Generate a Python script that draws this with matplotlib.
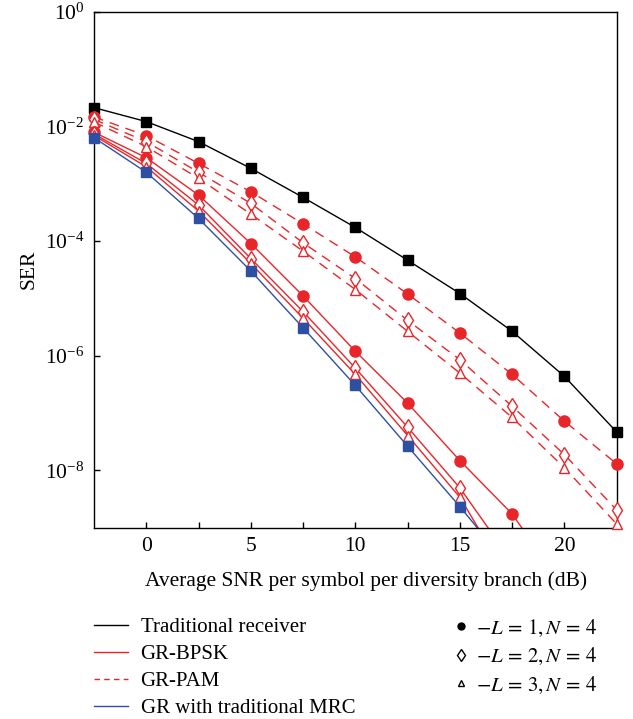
import matplotlib
matplotlib.use("Agg")
import numpy as np
import matplotlib.pyplot as plt
from matplotlib.lines import Line2D
from matplotlib.ticker import FixedLocator, LogFormatterMathtext, NullLocator

plt.rcParams['font.family'] = ['Liberation Serif', 'DejaVu Serif']
plt.rcParams['mathtext.fontset'] = 'stix'

# SNR grid (dB)
snr = [-2.5, 0, 2.5, 5, 7.5, 10, 12.5, 15, 17.5, 20, 22.5]

# traditional receiver
trad = [2.12e-2, 1.21e-2, 5.41e-3, 1.85e-3, 5.75e-4, 1.72e-4, 4.61e-5, 1.21e-5, 2.65e-6, 4.33e-7, 4.63e-8]

# GR-PAM, L = 1, 2, 3
pam_l1 = [1.46e-2, 6.87e-3, 2.26e-3, 7.21e-4, 1.99e-4, 5.27e-5, 1.19e-5, 2.47e-6, 4.69e-7, 7.16e-8, 1.29e-8]
pam_l2 = [1.32e-2, 5.41e-3, 1.58e-3, 4.53e-4, 9.27e-5, 2.21e-5, 4.12e-6, 8.47e-7, 1.30e-7, 1.87e-8, 2.02e-9]
pam_l3 = [1.19e-2, 4.42e-3, 1.24e-3, 2.94e-4, 6.64e-5, 1.42e-5, 2.65e-6, 4.94e-7, 8.32e-8, 1.10e-8, 1.15e-9]

# GR-BPSK, L = 1, 2, 3 (last points fall below the axis)
snr_bpsk1 = [-2.5, 0, 2.5, 5, 7.5, 10, 12.5, 15, 17.5, 20]
bpsk_l1 = [7.89e-3, 2.84e-3, 6.32e-4, 9.03e-5, 1.10e-5, 1.19e-6, 1.48e-7, 1.47e-8, 1.72e-9, 8.5e-11]
snr_bpsk = [-2.5, 0, 2.5, 5, 7.5, 10, 12.5, 15, 17.5]
bpsk_l2 = [7.36e-3, 2.26e-3, 4.23e-4, 4.94e-5, 5.85e-6, 6.04e-7, 5.62e-8, 4.91e-9, 2.5e-10]
bpsk_l3 = [6.93e-3, 1.97e-3, 3.32e-4, 4.05e-5, 4.47e-6, 4.69e-7, 4.03e-8, 3.36e-9, 1.0e-10]

# GR with traditional MRC
mrc = [6.34e-3, 1.58e-3, 2.47e-4, 3.00e-5, 3.05e-6, 3.01e-7, 2.62e-8, 2.31e-9, 1.8e-10]

red = '#e8262a'
blue = '#2e50a3'
ymin, ymax = 1e-9, 1.0

fig = plt.figure(figsize=(6.33, 7.19), dpi=100)
ax = fig.add_axes([0.1485, 0.2663, 0.8258, 0.7174])


def curve(x, y, color, ls, marker, filled, ms):
    x = np.asarray(x)
    y = np.asarray(y)
    if ls == '--':
        ax.plot(x, y, color=color, lw=1.0, dashes=(7, 5), zorder=2)
    else:
        ax.plot(x, y, color=color, lw=1.0, ls=ls, zorder=2)
    keep = y >= ymin
    face = color if filled else 'white'
    ax.plot(x[keep], y[keep], ls='none', marker=marker, ms=ms,
            mfc=face, mec=color, mew=1.0, clip_on=False, zorder=3)


curve(snr, trad, 'black', '-', 's', True, 7.5)
curve(snr, pam_l1, red, '--', 'o', True, 8)
curve(snr, pam_l2, red, '--', 'd', False, 8.5)
curve(snr, pam_l3, red, '--', '^', False, 7)
curve(snr_bpsk1, bpsk_l1, red, '-', 'o', True, 8)
curve(snr_bpsk, bpsk_l2, red, '-', 'd', False, 8.5)
curve(snr_bpsk, bpsk_l3, red, '-', '^', False, 7)
curve(snr_bpsk, mrc, blue, '-', 's', True, 7.5)

ax.set_yscale('log')
ax.set_xlim(-2.5, 22.5)
ax.set_ylim(ymin, ymax)
ax.xaxis.set_major_locator(FixedLocator([0, 5, 10, 15, 20]))
ax.xaxis.set_minor_locator(FixedLocator([2.5, 7.5, 12.5, 17.5]))
ax.yaxis.set_major_locator(FixedLocator([1e-8, 1e-6, 1e-4, 1e-2, 1e0]))
ax.yaxis.set_major_formatter(LogFormatterMathtext())
ax.yaxis.set_minor_locator(NullLocator())
ax.tick_params(which='both', direction='in', length=4.5, width=1.0,
               labelsize=15.5, pad=7)
for s in ax.spines.values():
    s.set_linewidth(1.0)

ax.set_xlabel('Average SNR per symbol per diversity branch (dB)', fontsize=15.5, labelpad=8)
ax.xaxis.set_label_coords(0.52, -0.085)
ax.set_ylabel('SER', fontsize=15.5)
ax.yaxis.set_label_coords(-0.105, 0.5)

line_handles = [
    Line2D([], [], color='black', lw=1.0),
    Line2D([], [], color=red, lw=1.0),
    Line2D([], [], color=red, lw=1.0, dashes=(4, 3)),
    Line2D([], [], color=blue, lw=1.0),
]
line_labels = ['Traditional receiver', 'GR-BPSK', 'GR-PAM', 'GR with traditional MRC']
leg1 = fig.legend(line_handles, line_labels, loc='upper left',
                  bbox_to_anchor=(0.148, 0.141), frameon=False, fontsize=15,
                  handlelength=1.65, handletextpad=0.6, labelspacing=0.36,
                  borderpad=0, borderaxespad=0)

marker_handles = [
    Line2D([], [], ls='none', marker='o', ms=5, color='black'),
    Line2D([], [], ls='none', marker='d', ms=6, mfc='white', mec='black'),
    Line2D([], [], ls='none', marker='^', ms=5, mfc='white', mec='black'),
]
marker_labels = ['$-L\\,=\\,1, N\\,=\\,4$', '$-L\\,=\\,2, N\\,=\\,4$', '$-L\\,=\\,3, N\\,=\\,4$']
leg2 = fig.legend(marker_handles, marker_labels, loc='upper left',
                  bbox_to_anchor=(0.715, 0.141), frameon=False, fontsize=15,
                  handlelength=0.8, handletextpad=0.3, labelspacing=0.36,
                  borderpad=0, borderaxespad=0)

fig.savefig('out.png', dpi=100)
